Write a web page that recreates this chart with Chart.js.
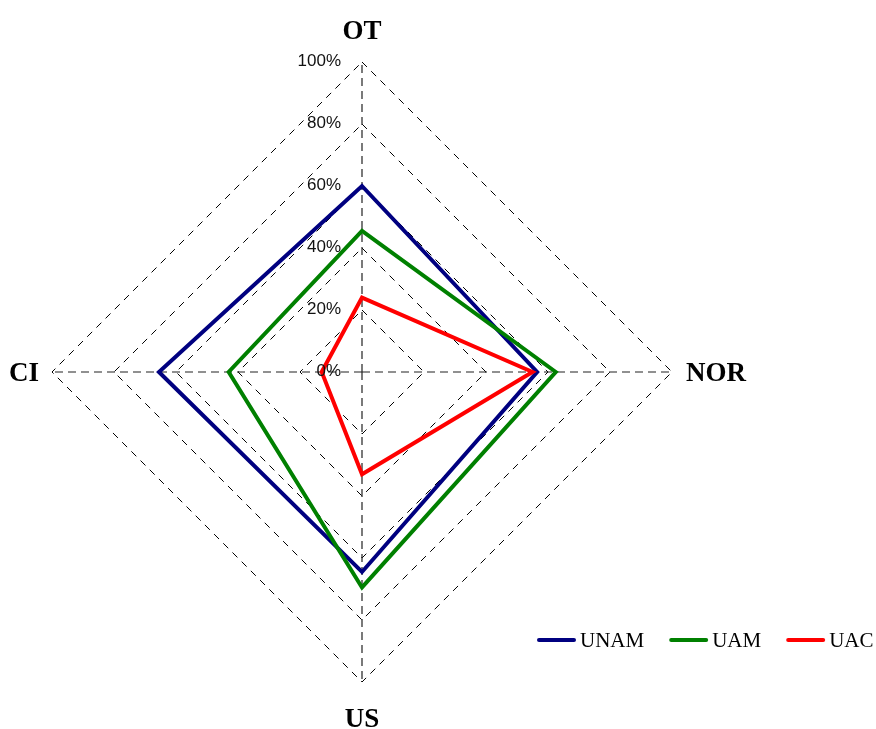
<!DOCTYPE html>
<html>
<head>
<meta charset="utf-8">
<script src="https://cdn.jsdelivr.net/npm/chart.js@4.4.0/dist/chart.umd.min.js"></script>
<style>
  html, body { margin: 0; padding: 0; background: #fff; }
  #wrap { width: 876px; height: 729px; position: relative; }
</style>
</head>
<body>
<div id="wrap"><canvas id="myChart" width="876" height="729"></canvas></div>
<script>
// axes, clockwise from the top
const categories = ['OT', 'NOR', 'US', 'CI'];
const seriesNames = ['UNAM', 'UAM', 'UAC'];
const unamValues = [60, 56.5, 64.5, 65.5];
const uamValues = [45.5, 62.5, 69.5, 43];
const uacValues = [24, 55, 33, 13];
const tickValues = [0, 20, 40, 60, 80, 100];
const tickLabels = ['0%', '20%', '40%', '60%', '80%', '100%'];

const colors = ['#000080', '#008000', '#ff0000'];

// point labels + tick labels + legend, drawn off the radial scale
const labelPlugin = {
    id: 'labelPlugin',
    afterDraw(chart) {
        const ctx = chart.ctx;
        const scale = chart.scales.r;
        const r = scale.drawingArea;
        ctx.save();

        // tick labels left of the vertical axis
        ctx.font = '17px "Liberation Sans", Arial, sans-serif';
        ctx.fillStyle = '#111';
        ctx.textAlign = 'right';
        ctx.textBaseline = 'middle';
        for (let i = 0; i < tickValues.length; i++) {
            const d = scale.getDistanceFromCenterForValue(tickValues[i]);
            ctx.fillText(tickLabels[i], scale.xCenter - 21, scale.yCenter - d - 1);
        }

        // axis names
        ctx.font = 'bold 27px "Liberation Serif", "Times New Roman", serif';
        ctx.fillStyle = '#000';
        for (let i = 0; i < categories.length; i++) {
            const p = scale.getPointPosition(i, r);
            let x = p.x, y = p.y;
            if (i === 0) { ctx.textAlign = 'center'; y -= 30; }
            else if (i === 1) { ctx.textAlign = 'left'; x += 14; y += 2; }
            else if (i === 2) { ctx.textAlign = 'center'; y += 38; }
            else { ctx.textAlign = 'right'; x -= 13; y += 2; }
            ctx.fillText(categories[i], x, y);
        }

        // legend
        ctx.font = '21px "Liberation Serif", "Times New Roman", serif';
        ctx.textAlign = 'left';
        ctx.textBaseline = 'middle';
        let lx = 537;
        const ly = 640;
        chart.data.datasets.forEach(ds => {
            ctx.strokeStyle = ds.borderColor;
            ctx.lineWidth = 4;
            ctx.lineCap = 'round';
            ctx.beginPath();
            ctx.moveTo(lx + 2, ly);
            ctx.lineTo(lx + 37, ly);
            ctx.stroke();
            ctx.fillStyle = '#000';
            ctx.fillText(ds.label, lx + 43, ly + 1);
            lx += 43 + ctx.measureText(ds.label).width + 25;
        });
        ctx.restore();
    }
};

const allValues = [unamValues, uamValues, uacValues];
const datasets = seriesNames.map((name, i) => ({
    label: name,
    data: allValues[i],
    borderColor: colors[i],
    backgroundColor: colors[i],
    borderWidth: 4,
    fill: false,
    pointRadius: 0,
    pointHoverRadius: 0,
    order: 2 - i
}));

const config = {
    type: 'radar',
    data: { labels: categories, datasets: datasets },
    options: {
        responsive: false,
        animation: false,
        layout: { padding: { top: 62, bottom: 47, left: 0, right: 152 } },
        plugins: {
            legend: { display: false },
            tooltip: { enabled: false }
        },
        scales: {
            r: {
                min: 0,
                max: 100,
                ticks: { stepSize: 20, display: false },
                pointLabels: { display: false },
                grid: { circular: false, color: '#000', lineWidth: 1 },
                border: { dash: [7, 6] },
                angleLines: { color: '#222', lineWidth: 1.2, borderDash: [8, 5] }
            }
        }
    },
    plugins: [labelPlugin]
};

new Chart(document.getElementById('myChart'), config);
</script>
</body>
</html>
